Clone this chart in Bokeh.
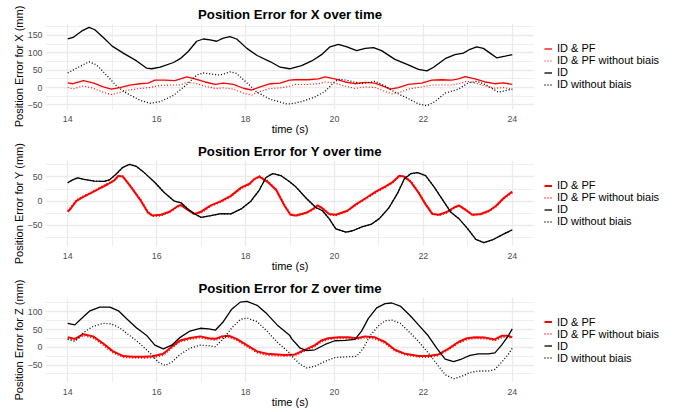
from bokeh.plotting import figure
from bokeh.layouts import column, row
from bokeh.models import FixedTicker, Range1d, Legend, LegendItem
from bokeh.embed import file_html
from bokeh.resources import INLINE

FONT = "Liberation Sans"

# ---------------- Panel X ----------------
x_id_t = [14.00, 14.12, 14.31, 14.48, 14.61, 14.80, 15.00, 15.25, 15.55, 15.77, 15.89, 16.08, 16.38, 16.53,
          16.71, 16.90, 17.05, 17.20, 17.35, 17.50, 17.65, 17.80, 18.03, 18.26, 18.56, 18.78, 18.99,
          19.26, 19.49, 19.71, 19.90, 20.09, 20.28, 20.50, 20.69, 20.88, 21.06, 21.36, 21.66, 21.89, 22.08,
          22.23, 22.49, 22.71, 22.90, 23.05, 23.20, 23.35, 23.50, 23.65, 23.84, 24.00]
x_id_v = [139.5, 144, 162, 173, 166, 144, 119, 99, 76.5, 56, 54, 58.5, 72, 83,
          103.5, 133, 139.5, 137, 133, 142, 146, 139.5, 112.5, 92, 74, 58.5, 54,
          63, 76.5, 94.5, 117, 124, 117, 106, 112.5, 115, 106, 81, 65, 52, 48,
          58.5, 83, 94.5, 99, 110, 117, 112.5, 99, 85.5, 90, 94.5]

x_idnb_t = [14.00, 14.20, 14.48, 14.65, 14.87, 15.10, 15.32, 15.62, 15.85, 16.08, 16.38, 16.68, 16.90, 17.05,
            17.28, 17.43, 17.65, 17.80, 18.03, 18.26, 18.56, 18.93,
            19.00, 19.26, 19.56, 19.79, 20.01, 20.13, 20.31, 20.61, 20.91, 21.14, 21.36, 21.66, 21.89, 22.08,
            22.26, 22.49, 22.79, 23.01, 23.20, 23.39, 23.69, 24.00]
x_idnb_v = [42, 56, 74, 65, 36, 4.5, -16, -36, -45, -40.5, -22.5, 9, 36, 42,
            38, 36, 45, 40.5, 13.5, -13.5, -34, -47,
            -47, -40.5, -27, -11, 18, 24, 20, 11, 18, 4.5, -13.5, -31.5, -47, -52,
            -40.5, -16, -4.5, 13.5, 18, 9, -13.5, -4.5]

x_pf_t = [14.00, 14.12, 14.35, 14.57, 14.80, 14.98, 15.17, 15.40, 15.62, 15.81, 15.96, 16.19, 16.41, 16.68,
          16.86, 17.09, 17.32, 17.50, 17.73, 17.95, 18.14, 18.33, 18.56, 18.78, 18.99,
          19.11, 19.41, 19.64, 19.79, 20.01, 20.24, 20.46, 20.69, 20.91, 21.14, 21.25, 21.44, 21.66, 21.96,
          22.19, 22.41, 22.64, 22.79, 22.94, 23.16, 23.39, 23.61, 23.80, 24.00]
x_pf_v = [13.5, 11, 20, 13.5, 2, -4.5, 0, 7, 11, 12.6, 21.6, 21.6, 20, 30.6,
          25, 16, 9, 12.6, 9, -2, -7, 2, 11, 12.6, 21.6,
          22.5, 22.5, 25, 30.6, 25, 16, 11, 15, 12.6, 2, -4.5, 0, 9, 12.6,
          21.6, 22.5, 21.6, 25, 31.5, 25, 16, 11, 13.5, 9]

x_pfnb_t = [14.00, 14.12, 14.35, 14.57, 14.80, 14.98, 15.17, 15.40, 15.62, 15.85, 16.08, 16.30, 16.53, 16.68,
            16.86, 17.09, 17.32, 17.50, 17.73, 17.95, 18.14, 18.33, 18.56, 18.78, 18.99,
            19.11, 19.41, 19.64, 19.79, 20.01, 20.24, 20.46, 20.69, 20.91, 21.14, 21.29, 21.48, 21.66, 21.96,
            22.19, 22.41, 22.64, 22.79, 22.98, 23.16, 23.39, 23.61, 23.80, 24.00]
x_pfnb_v = [0, -3.6, 4.5, -2, -13.5, -20, -14.4, -6.3, -2.7, 0, 6.3, 7.2, 7.2, 15,
            12.6, 4.5, -2.7, -1, -4.5, -16, -21.6, -11, -2.7, -1, 3.6,
            9, 9, 11, 16, 12.6, 4.5, -2.7, 2, 0, -11, -18, -13.5, -4.5, 2,
            7.2, 7.2, 7.2, 11, 18, 13.5, 4.5, -2, 0, -4.5]

# ---------------- Panel Y ----------------
y_id_t = [14.00, 14.11, 14.22, 14.37, 14.60, 14.82, 14.94, 15.09, 15.24, 15.39, 15.54, 15.72, 15.95, 16.17,
          16.40, 16.55, 16.70, 16.85, 17.00, 17.22, 17.45, 17.67, 17.90, 18.12, 18.31, 18.46, 18.61, 18.80,
          19.00, 19.13, 19.36, 19.58, 19.73, 19.88, 20.03, 20.26, 20.41, 20.63, 20.82, 21.01, 21.23, 21.42,
          21.57, 21.72, 21.87, 22.05, 22.24, 22.43, 22.62, 22.80, 22.99, 23.18, 23.36, 23.55, 23.78, 24.00]
y_id_v = [38, 44, 48, 45, 41.5, 41, 44, 56, 70, 76, 72, 59, 39.5, 18,
          0, -3.3, -16, -26, -33.5, -30, -25.7, -26.3, -16, 0, 23, 49, 57, 52.6,
          39.5, 29.6, 6.6, -13, -19.7, -36, -57, -64, -61, -52.6, -48, -36, -13, 16.5,
          46, 57, 59, 52.6, 29.6, 3.3, -23, -36, -56, -79, -85.5, -80, -69, -59]
# "ID without biais" lies on top of "ID" in the Y panel
y_idnb_v = [38, 44, 48, 45, 41.5, 41, 44, 56, 70, 76, 72, 59, 39.5, 18,
            0, -3.3, -16, -26, -33.5, -30, -25.7, -26.3, -16, 0, 23, 49, 57, 52.6,
            39.5, 29.6, 6.6, -13, -19.7, -36, -57, -64, -61, -52.6, -48, -36, -13, 16.5,
            46, 57, 59, 52.6, 29.6, 3.3, -23, -36, -56, -79, -85.5, -80, -69, -59]

y_pf_t = [14.00, 14.07, 14.19, 14.34, 14.52, 14.71, 14.90, 15.05, 15.14, 15.24, 15.42, 15.65, 15.80, 15.91,
          16.10, 16.29, 16.48, 16.55, 16.70, 16.85, 17.00, 17.22, 17.45, 17.67, 17.90, 18.09, 18.20, 18.31,
          18.50, 18.69, 18.88, 19.01,
          19.13, 19.36, 19.51, 19.62, 19.73, 19.88, 20.03, 20.29, 20.48, 20.71, 20.93, 21.16, 21.31, 21.46,
          21.57, 21.72, 21.90, 22.05, 22.20, 22.35, 22.54, 22.69, 22.80, 22.95, 23.10, 23.29, 23.48, 23.63,
          23.81, 24.00]
y_pf_v = [-21.7, -15, 0, 8.6, 16.5, 26, 35, 43, 52.6, 50.7, 29.6, 0, -23, -29.6,
          -28, -21.7, -10, -8, -17.8, -26.3, -21.7, -8.6, 0, 11, 28, 36, 46, 50.7,
          39.5, 23, -10, -28,
          -29.6, -24, -16.5, -8.6, -15, -26.3, -28, -19.7, -6.6, 6.6, 19.7, 31, 39.5, 52.6,
          50.7, 39.5, 16.5, -6.6, -26.3, -28, -21.7, -13, -8.6, -17.8, -28, -26.3, -19.7, -10,
          6.6, 19.7]
y_pfnb_v = [-19.7, -13, 2, 10, 18, 27.5, 36.5, 44, 51, 52, 31, 2, -21, -31,
            -30, -23, -11.5, -9.6, -16.5, -28, -23.7, -10.5, -1.5, 9.5, 26.5, 34, 44, 52,
            42, 24.5, -8, -26,
            -31, -25.5, -18, -10, -13.5, -27.5, -29.5, -21, -8, 5, 18, 29.5, 38, 51,
            52, 41, 18, -5, -24.5, -29.5, -23.5, -14.5, -10, -16, -29.5, -27.5, -21, -11.5,
            5, 17.5]

# ---------------- Panel Z ----------------
z_id_t = [14.00, 14.16, 14.31, 14.50, 14.72, 14.95, 15.14, 15.32, 15.55, 15.77, 15.96, 16.15, 16.34, 16.53,
          16.75, 16.98, 17.17, 17.32, 17.50, 17.69, 17.88, 18.03, 18.26, 18.48, 18.71, 18.99,
          19.04, 19.23, 19.38, 19.56, 19.79, 20.01, 20.24, 20.46, 20.61, 20.76, 20.95, 21.14, 21.29, 21.48,
          21.70, 21.89, 22.11, 22.30, 22.49, 22.68, 22.86, 23.05, 23.24, 23.46, 23.61, 23.76, 23.91, 24.00]
z_id_v = [67.5, 63, 80.7, 102.6, 113, 113, 102.6, 80.7, 54.4, 34, 6, -4.4, 6, 28,
          45.6, 53.5, 51.7, 48, 72, 107, 127, 129, 118, 94, 63, 34,
          23.7, -2.6, -9.6, -7, 7.9, 18.4, 19.3, 22, 45.6, 80.7, 111, 123, 124.5, 116,
          89.5, 63, 32.4, -2.6, -33, -40, -33, -22.8, -18.4, -18.4, -15.8, 6, 32.4, 51.7]

z_idnb_t = [14.00, 14.16, 14.35, 14.57, 14.80, 14.98, 15.17, 15.40, 15.62, 15.85, 16.04, 16.19, 16.34, 16.53,
            16.75, 16.98, 17.17, 17.32, 17.50, 17.69, 17.88, 18.03, 18.26, 18.48, 18.71, 18.99,
            19.04, 19.23, 19.38, 19.56, 19.79, 20.01, 20.24, 20.50, 20.65, 20.80, 20.99, 21.14, 21.29, 21.48,
            21.70, 21.89, 22.11, 22.30, 22.49, 22.68, 22.86, 23.05, 23.24, 23.46, 23.61, 23.76, 23.91, 24.00]
z_idnb_v = [22, 16.7, 41, 58.8, 67.5, 65.8, 54.4, 32.4, 10.5, -15.8, -42, -51, -42, -20,
            -2.6, 6, 4.4, 1.8, 23.7, 54.4, 78, 82.4, 72, 45.6, 15, -15.8,
            -24.6, -48, -58, -53.5, -39.5, -29, -27, -25.4, -2.6, 32.4, 60.5, 74.5, 76.3, 67.5,
            41, 16.7, -15.8, -46.5, -77, -88.6, -81.6, -71, -66.7, -66.7, -62, -42, -20, -2.6]

z_pf_t = [14.00, 14.16, 14.35, 14.57, 14.80, 15.02, 15.25, 15.47, 15.70, 15.92, 16.15, 16.34, 16.53, 16.75,
          16.98, 17.17, 17.32, 17.47, 17.62, 17.80, 18.03, 18.26, 18.48, 18.71, 18.89,
          19.11, 19.34, 19.56, 19.71, 19.86, 20.09, 20.31, 20.50, 20.69, 20.91, 21.14, 21.36, 21.59, 21.89,
          22.11, 22.34, 22.56, 22.79, 22.98, 23.16, 23.39, 23.61, 23.76, 23.91, 24.00]
z_pf_v = [28, 23.7, 36.8, 30.7, 10.5, -11.4, -24.6, -26.3, -26.3, -25.4, -18.4, 1.8, 19.3, 26.3,
          30.7, 25.4, 23.7, 30.7, 32.4, 23.7, 6, -11.4, -18.4, -20, -22,
          -20, -7, 6, 19.3, 25.4, 28, 28, 25.4, 30.7, 28, 14.9, -7, -18.4, -24.6,
          -24.6, -20, -4.4, 14.9, 25.4, 28, 27.2, 22, 32.4, 32.4, 28]
z_pfnb_v = [24, 20, 33, 27, 6, -15, -28, -30, -30, -29, -22, -2, 16, 23,
            27, 22, 20, 27, 29, 20, 2, -15, -22, -24, -25,
            -23, -10, 3, 16, 22, 25, 25, 22, 27, 24, 11, -10, -21, -27,
            -28, -23, -7, 12, 22, 25, 24, 19, 28, 29, 25]

x_ticks = [14, 16, 18, 20, 22, 24]
x_minor = [15, 17, 19, 21, 23]
labels = ["ID & PF", "ID & PF without biais", "ID", "ID without biais"]

GRID = "#EBEBEB"
LEFT = 45
FRAME_W = 489
MAIN_W = LEFT + FRAME_W
LEG_W = 146
TOP = 23
BOTTOM = 25

STYLES = [dict(line_color="#FF0000"), dict(line_color="#FF0000", line_dash="1 2"),
          dict(line_color="black"), dict(line_color="black", line_dash="1 2")]


def make_panel(name, series, yr, yticks, yminor, red_w, height):
    p = figure(width=MAIN_W, height=height, output_backend="svg", toolbar_location=None,
               x_range=Range1d(13.5, 24.5), y_range=Range1d(*yr),
               min_border_left=LEFT, min_border_right=0,
               min_border_top=TOP, min_border_bottom=BOTTOM,
               background_fill_color="white", border_fill_color="white")
    p.outline_line_color = None
    p.title.text = f"Position Error for {name} over time"
    p.title.align = "center"
    p.title.text_font = FONT
    p.title.text_font_size = "13.2px"
    p.title.text_font_style = "bold"
    p.title.text_color = "black"
    p.title.standoff = 4

    p.xaxis.ticker = FixedTicker(ticks=x_ticks, minor_ticks=x_minor)
    p.yaxis.ticker = FixedTicker(ticks=yticks, minor_ticks=yminor)
    p.xaxis.axis_label = "time (s)"
    p.yaxis.axis_label = f"Position Error for {name} (mm)"
    for ax in (p.xaxis, p.yaxis):
        ax.axis_line_color = None
        ax.major_tick_line_color = None
        ax.minor_tick_line_color = None
        ax.major_tick_out = 0
        ax.major_tick_in = 0
        ax.minor_tick_out = 0
        ax.minor_tick_in = 0
        ax.major_label_text_font = FONT
        ax.major_label_text_font_size = "8.8px"
        ax.major_label_text_color = "#4D4D4D"
        ax.axis_label_text_font = FONT
        ax.axis_label_text_font_size = "11px"
        ax.axis_label_text_font_style = "normal"
        ax.axis_label_text_color = "black"
    p.xaxis.major_label_standoff = 6
    p.xaxis.axis_label_standoff = -2
    p.yaxis.major_label_standoff = 3
    p.yaxis.axis_label_standoff = 0

    for g in (p.xgrid, p.ygrid):
        g.grid_line_color = GRID
        g.grid_line_width = 1.3
        g.minor_grid_line_color = GRID
        g.minor_grid_line_width = 0.8

    widths = [red_w, red_w * 0.85, 1.3, 1.3]
    for (xs, ys), st, w in zip(series, STYLES, widths):
        p.line(xs, ys, line_width=w, **st)

    # legend drawn in a companion plot to the right of the panel;
    # its lines carry the same data but lie outside its (0..1) view
    lp = figure(width=LEG_W, height=height, output_backend="svg", toolbar_location=None,
                x_range=Range1d(0, 1), y_range=Range1d(0, 1),
                min_border_left=0, min_border_right=0, min_border_top=TOP, min_border_bottom=BOTTOM,
                background_fill_color="white", border_fill_color="white")
    lp.outline_line_color = None
    lp.axis.visible = False
    lp.grid.visible = False
    rends = [lp.line(xs, ys, line_width=w, **st) for (xs, ys), st, w in zip(series, STYLES, widths)]
    items = [LegendItem(label=l, renderers=[r]) for l, r in zip(labels, rends)]
    leg = Legend(items=items, location="center_left", orientation="vertical",
                 label_text_font=FONT, label_text_font_size="11px", label_text_color="black",
                 glyph_width=8, glyph_height=9, label_height=9, spacing=-3, padding=0, margin=10,
                 label_standoff=5, border_line_color=None, background_fill_alpha=0)
    lp.add_layout(leg, "center")
    return row(p, lp)


r1 = make_panel("X", [(x_pf_t, x_pf_v), (x_pfnb_t, x_pfnb_v), (x_id_t, x_id_v), (x_idnb_t, x_idnb_v)],
                (-63, 184), [-50, 0, 50, 100, 150], [-25, 25, 75, 125, 175], 1.3, 137)
r2 = make_panel("Y", [(y_pf_t, y_pf_v), (y_pf_t, y_pfnb_v), (y_id_t, y_id_v), (y_id_t, y_idnb_v)],
                (-93.5, 84), [-50, 0, 50], [-75, -25, 25, 75], 2.0, 137)
r3 = make_panel("Z", [(z_pf_t, z_pf_v), (z_pf_t, z_pfnb_v), (z_id_t, z_id_v), (z_idnb_t, z_idnb_v)],
                (-99, 140), [-50, 0, 50, 100], [-75, -25, 25, 75, 125], 2.0, 136)

layout = column(r1, r2, r3)
open("out.html", "w").write(file_html(layout, INLINE))
